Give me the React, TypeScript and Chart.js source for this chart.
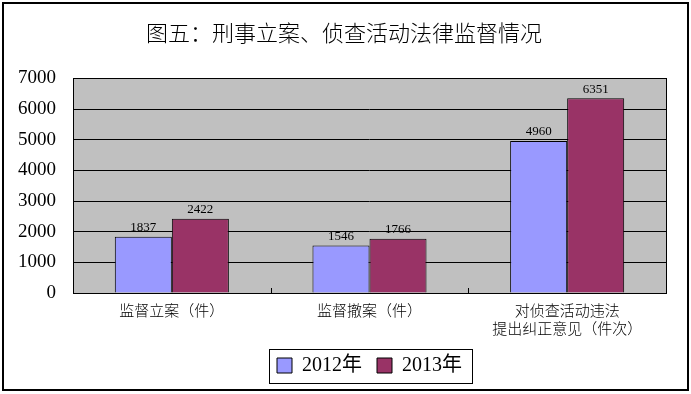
import { useEffect, useRef } from "react";
import { Chart, registerables } from "chart.js";

Chart.register(...registerables);

const titleText = "图五：刑事立案、侦查活动法律监督情况";
const categories: string[][] = [["监督立案（件）"], ["监督撤案（件）"], ["对侦查活动违法", "提出纠正意见（件次）"]];
const seriesNames = ["2012年", "2013年"];
const values2012 = [1837, 1546, 4960];
const values2013 = [2422, 1766, 6351];
const yMin = 0;
const yMax = 7000;
const yStep = 1000;

const SERIF = "'Liberation Serif', 'Noto Sans CJK SC', serif";
const CJK = "'Noto Sans CJK SC', sans-serif";

const decorPlugin = {
  id: "decor",
  beforeDraw(chart: any) {
    const { ctx, chartArea: a } = chart;
    ctx.save();
    ctx.fillStyle = "#ffffff";
    ctx.fillRect(0, 0, chart.width, chart.height);
    ctx.fillStyle = "#c0c0c0";
    ctx.fillRect(a.left, a.top, a.right - a.left, a.bottom - a.top);
    ctx.restore();
  },
  afterDatasetsDraw(chart: any) {
    const { ctx, chartArea: a } = chart;
    ctx.save();
    ctx.strokeStyle = "#000";
    ctx.lineWidth = 1;
    ctx.strokeRect(Math.round(a.left) + 0.5, Math.round(a.top) + 0.5, Math.round(a.right - a.left), Math.round(a.bottom - a.top));
    const xs = chart.scales.x;
    for (let i = 1; i < categories.length; i++) {
      const px = Math.round((xs.getPixelForValue(i - 1) + xs.getPixelForValue(i)) / 2) + 0.5;
      ctx.beginPath();
      ctx.moveTo(px, a.bottom);
      ctx.lineTo(px, a.bottom - 5);
      ctx.stroke();
    }
    ctx.fillStyle = "#000";
    ctx.font = "13px " + SERIF;
    ctx.textAlign = "center";
    ctx.textBaseline = "middle";
    chart.data.datasets.forEach((ds: any, di: number) => {
      const meta = chart.getDatasetMeta(di);
      meta.data.forEach((el: any, i: number) => {
        ctx.fillText(String(ds.data[i]), el.x, el.y - 9);
      });
    });
    ctx.restore();
  },
  afterDraw(chart: any) {
    const { ctx } = chart;
    ctx.save();
    ctx.strokeStyle = "#000";
    const hb = chart.legend && chart.legend.legendHitBoxes;
    if (hb && hb.length) {
      let l = Infinity, r = -Infinity, t = Infinity, b = -Infinity;
      hb.forEach((h: any) => {
        l = Math.min(l, h.left);
        r = Math.max(r, h.left + h.width);
        t = Math.min(t, h.top);
        b = Math.max(b, h.top + h.height);
      });
      ctx.lineWidth = 1;
      ctx.strokeRect(Math.round(l - 8) + 0.5, Math.round(t - 7) + 0.5, Math.round(r - l + 18), Math.round(b - t + 14));
    }
    ctx.lineWidth = 2;
    ctx.strokeRect(3, 3, chart.width - 6, chart.height - 7);
    ctx.restore();
  },
};

export default function App() {
  const ref = useRef<HTMLCanvasElement | null>(null);
  useEffect(() => {
    if (!ref.current) return;
    const chart = new Chart(ref.current, {
      type: "bar",
      data: {
        labels: categories,
        datasets: [
          {
            label: seriesNames[0],
            data: values2012,
            backgroundColor: "#9999ff",
            borderColor: "#000000",
            borderWidth: 1,
            borderSkipped: "bottom",
            categoryPercentage: 0.577,
            barPercentage: 1.0,
          },
          {
            label: seriesNames[1],
            data: values2013,
            backgroundColor: "#993366",
            borderColor: "#000000",
            borderWidth: 1,
            borderSkipped: "bottom",
            categoryPercentage: 0.577,
            barPercentage: 1.0,
          },
        ],
      },
      options: {
        responsive: false,
        animation: false,
        devicePixelRatio: 1,
        layout: { padding: { left: 0, right: 3, top: 0, bottom: 8.5 } },
        scales: {
          x: {
            grid: { display: false, drawTicks: false },
            border: { display: false },
            ticks: { color: "#000", font: { family: CJK, size: 15, weight: "300" }, padding: 8, maxRotation: 0, autoSkip: false },
            afterFit: (s: any) => { s.height = 47.5; },
          },
          y: {
            min: yMin,
            max: yMax,
            grid: { color: "#000", drawTicks: false, lineWidth: 1 },
            border: { display: false },
            ticks: {
              stepSize: yStep,
              color: "#000",
              font: { family: SERIF, size: 19 },
              padding: 17,
              callback: (v: any) => String(v),
            },
            afterFit: (s: any) => { s.width = 73; },
          },
          yRight: {
            type: "linear",
            position: "right",
            display: true,
            grid: { display: false, drawTicks: false },
            border: { display: false },
            ticks: { display: false },
            afterFit: (s: any) => { s.width = 22; },
          },
        },
        plugins: {
          title: {
            display: true,
            text: titleText,
            color: "#000",
            font: { family: CJK, size: 22, weight: "300" },
            padding: { top: 19, bottom: 33 },
          },
          legend: {
            position: "bottom",
            fullSize: false,
            maxHeight: 45,
            labels: {
              boxWidth: 15,
              boxHeight: 15,
              color: "#000",
              font: { family: SERIF, size: 20 },
              padding: 15,
            },
          },
          tooltip: { enabled: false },
        },
      },
      plugins: [decorPlugin],
    } as any);
    return () => chart.destroy();
  }, []);
  return (
    <div style={{ position: "absolute", left: 0, top: 0, width: 691, height: 394, background: "#fff" }}>
      <canvas ref={ref} width={691} height={394} style={{ display: "block", width: 691, height: 394 }} />
    </div>
  );
}
